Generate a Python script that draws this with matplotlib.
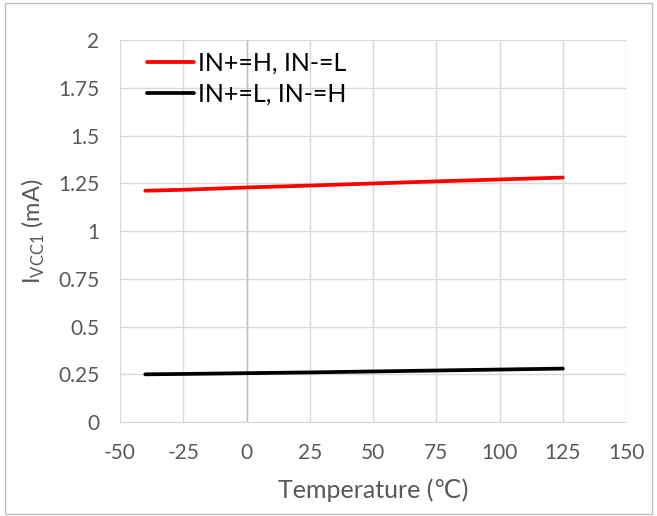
import matplotlib
matplotlib.use("Agg")
import matplotlib.pyplot as plt
from matplotlib.patches import Rectangle

plt.rcParams['font.family'] = ['Lato', 'DejaVu Sans']
plt.rcParams['axes.unicode_minus'] = False

temp = [-40, -25, 0, 25, 50, 75, 100, 125]
icc_h = [1.211, 1.216, 1.228, 1.238, 1.249, 1.260, 1.270, 1.280]
icc_l = [0.250, 0.252, 0.256, 0.260, 0.265, 0.270, 0.275, 0.280]

xticks = [-50, -25, 0, 25, 50, 75, 100, 125, 150]
yticks = [0, 0.25, 0.5, 0.75, 1, 1.25, 1.5, 1.75, 2]
ylabels = ['0', '0.25', '0.5', '0.75', '1', '1.25', '1.5', '1.75', '2']

fig = plt.figure(figsize=(6.57, 5.16), dpi=100)
ax = fig.add_axes([0.1826, 0.182, 0.7704, 0.7405])

ax.plot(temp, icc_h, c='#ff0000', lw=2.7, solid_capstyle='round', label='IN+=H, IN-=L', zorder=3)
ax.plot(temp, icc_l, c='k', lw=2.7, solid_capstyle='round', label='IN+=L, IN-=H', zorder=3)

ax.set_xlim(-50, 150)
ax.set_ylim(0, 2)
ax.set_xticks(xticks)
ax.set_yticks(yticks)
ax.set_yticklabels(ylabels)
ax.grid(True, color='#d9d9d9', lw=1)
ax.set_axisbelow(True)
ax.axvline(0, color='#bfbfbf', lw=1, zorder=1)
for s in ax.spines.values():
    s.set_visible(False)
ax.spines['bottom'].set_visible(True)
ax.spines['bottom'].set_color('#d9d9d9')
ax.tick_params(length=0, labelsize=15, labelcolor='#595959')
ax.tick_params(axis='y', pad=15)
ax.tick_params(axis='x', pad=15)

ax.set_xlabel('Temperature (\u2103)', fontsize=18, color='#595959', labelpad=11)
ax.set_ylabel('I$_{\\mathregular{VCC1}}$ (mA)', fontsize=17, color='#595959', labelpad=8)

ax.legend(loc='upper left', frameon=False, fontsize=18, handlelength=1.9,
          handletextpad=0.15, borderaxespad=0.0, labelspacing=0.3,
          bbox_to_anchor=(0.033, 0.995))

fig.patches.append(Rectangle((0.008, 0.003), 0.985, 0.992, transform=fig.transFigure,
                             fill=False, edgecolor='#bfbfbf', lw=1))

fig.savefig('out.png', dpi=100)
